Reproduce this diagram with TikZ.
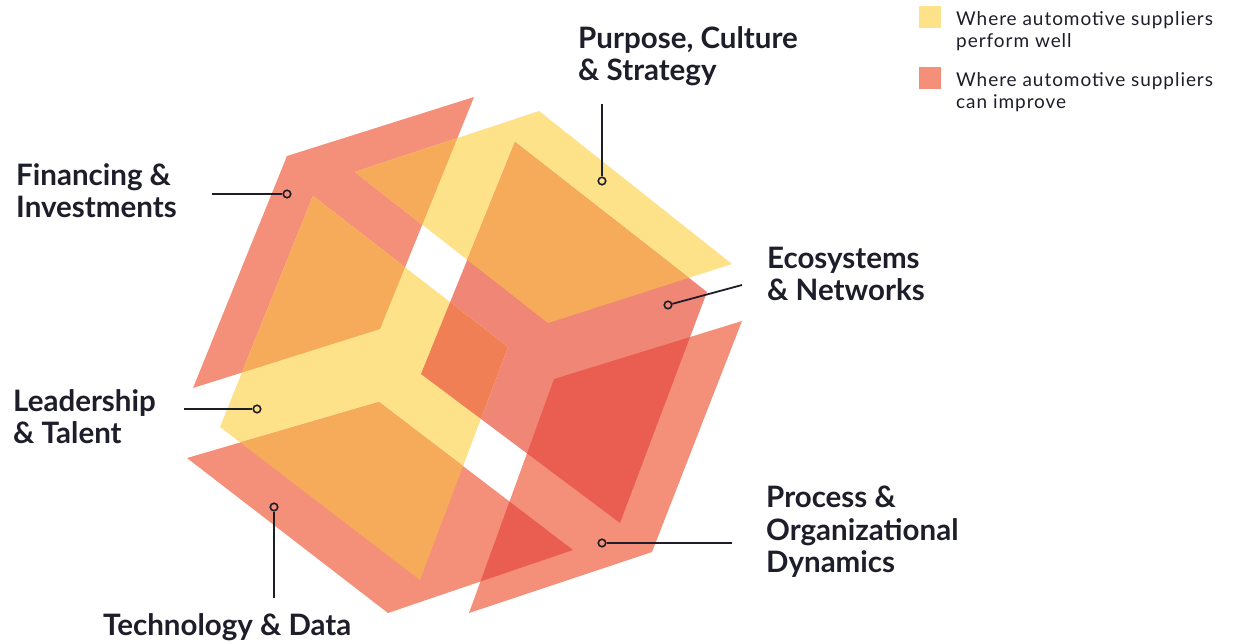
\documentclass[tikz,border=0pt]{standalone}
\usepackage{fontspec}
\setmainfont{Lato}
\definecolor{ylw}{HTML}{FEE28A}
\definecolor{slm}{HTML}{F4907A}
\definecolor{slmB}{HTML}{F08675}
\definecolor{org}{HTML}{F6AB5A}
\definecolor{mid}{HTML}{F07F55}
\definecolor{rdd}{HTML}{E95E50}
\definecolor{ink}{HTML}{1E1E2A}
\tikzset{
  lbl/.style={anchor=base west, align=left, inner sep=0pt, text=ink,
    font=\bfseries\fontsize{29.5}{32.5}\selectfont},
  legtxt/.style={anchor=base west, align=left, inner sep=0pt, text=ink,
    font=\fontsize{19}{22}\selectfont\addfontfeature{LetterSpace=5}},
  legbox/.style={minimum size=22pt, inner sep=0pt, draw=none},
  leader/.style={draw=ink, line width=1.8pt},
  dotmark/.style={circle, draw=ink, line width=1.6pt, minimum size=7.5pt, inner sep=0pt},
}
% the six faces of the exploded cube
\def\finF{(287,156) -- (474,97) -- (380,329) -- (193,388) -- cycle}
\def\purF{(539,111) -- (732,264) -- (548,323) -- (355,172) -- cycle}
\def\ecoF{(515,142) -- (707,292) -- (620,523) -- (421,374) -- cycle}
\def\leaF{(313,196) -- (508,347) -- (420,580) -- (220,427) -- cycle}
\def\tecF{(379,402) -- (573,550) -- (388,613) -- (187,458) -- cycle}
\def\proF{(554,379) -- (742,321) -- (652,552) -- (469,613) -- cycle}
\newcommand{\overlapfill}[3]{\begin{scope}\clip #1;\fill[#3] #2;\end{scope}}
\begin{document}
\begin{tikzpicture}[x=1pt, y=-1pt]
\useasboundingbox (0,0) rectangle (1235,643);
\fill[white] (0,0) rectangle (1235,643);
% base faces
\fill[slm] \finF;
\fill[ylw] \purF;
\fill[slmB] \ecoF;
\fill[ylw] \leaF;
\fill[slm] \tecF;
\fill[slm] \proF;
% overlaps
\overlapfill{\finF}{\leaF}{org}
\overlapfill{\finF}{\purF}{org}
\overlapfill{\purF}{\ecoF}{org}
\overlapfill{\tecF}{\leaF}{org}
\overlapfill{\ecoF}{\leaF}{mid}
\overlapfill{\ecoF}{\proF}{rdd}
\overlapfill{\tecF}{\proF}{rdd}
% labels (anchored at the baseline of their last line)
\node[lbl] (fin) at (16,217.5) {Financing \&\\Investments};
\node[lbl] (pur) at (578,80.5) {Purpose, Culture\\\& Strategy};
\node[lbl] (eco) at (767,300.5) {Ecosystems\\\& Networks};
\node[lbl] (lea) at (13,443.5) {Leadership\\\& Talent};
\node[lbl] (pro) at (766,572.5) {Process \&\\Organizational\\Dynamics};
\node[lbl] (tec) at (103,635) {Technology \& Data};
% leader lines
\coordinate (finE) at (212,194);
\coordinate (purE) at (602,104);
\coordinate (ecoE) at (742,285);
\coordinate (leaE) at (184,409);
\coordinate (tecE) at (274,598);
\coordinate (proE) at (732,543);
\node[dotmark] (finD) at (287,194) {};
\node[dotmark] (purD) at (602,181) {};
\node[dotmark] (ecoD) at (668,305) {};
\node[dotmark] (leaD) at (257,409) {};
\node[dotmark] (tecD) at (274,507) {};
\node[dotmark] (proD) at (602,543) {};
\draw[leader] (finE) -- (finD);
\draw[leader] (purE) -- (purD);
\draw[leader] (ecoE) -- (ecoD);
\draw[leader] (leaE) -- (leaD);
\draw[leader] (tecE) -- (tecD);
\draw[leader] (proE) -- (proD);
% legend
\node[legbox, fill=ylw] (legY) at (929.5,17) {};
\node[legbox, fill=slm] (legS) at (929.5,78) {};
\node[legtxt] (legYt) at (956,47) {Where automotive suppliers\\perform well};
\node[legtxt] (legSt) at (956,108) {Where automotive suppliers\\can improve};
\end{tikzpicture}
\end{document}
